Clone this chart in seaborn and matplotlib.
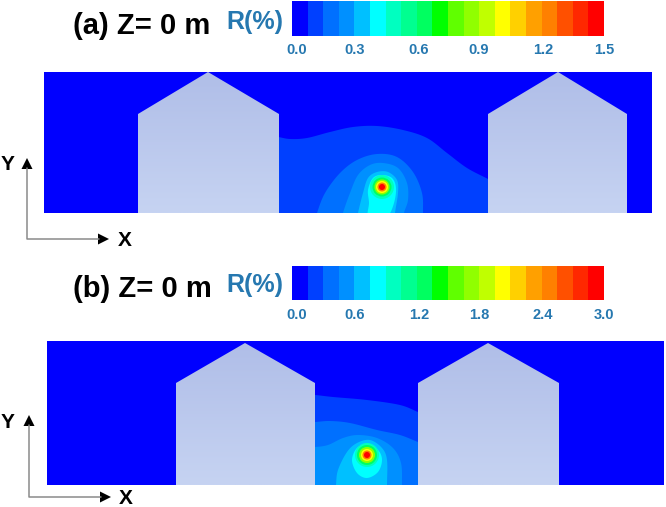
import numpy as np
import matplotlib
matplotlib.use("Agg")
import matplotlib.pyplot as plt
import seaborn as sns
from matplotlib.colors import ListedColormap, LinearSegmentedColormap
from matplotlib.patches import Polygon, Circle, Rectangle

sns.set_theme(style="white")
plt.rcParams["font.family"] = ["Liberation Sans", "DejaVu Sans"]

# colour scale of the CFD legend, 20 bands
band_colors = ["#0000ff", "#0040ff", "#0070ff", "#0090ff", "#00c0ff",
               "#00ffff", "#00ffc0", "#00ff90", "#00ff60", "#00ff00",
               "#60ff00", "#90ff00", "#c0ff00", "#ffff00", "#ffd000",
               "#ffa000", "#ff8000", "#ff5000", "#ff2800", "#ff0000"]
ticks_a = ["0.0", "0.3", "0.6", "0.9", "1.2", "1.5"]
ticks_b = ["0.0", "0.6", "1.2", "1.8", "2.4", "3.0"]

# contour outlines (image pixels), lowest level first
contours_a = [
    ("#0040ff", [(270, 137), (278, 137), (290, 139), (307, 138), (330, 132), (353, 127), (377, 126), (403, 130),
                 (427, 138), (447, 153), (467, 168), (488, 179), (500, 186), (505, 225), (500, 250), (385, 255),
                 (270, 250), (265, 200)]),
    ("#0070ff", [(314, 225), (317, 213), (325, 193), (340, 173), (357, 160), (377, 154), (397, 157),
                 (413, 172), (422, 193), (423, 213), (423, 228), (370, 235)]),
    ("#0090ff", [(341, 225), (343, 213), (350, 193), (358, 175), (370, 165), (383, 163), (398, 168),
                 (407, 183), (408, 200), (404, 213), (402, 228), (370, 235)]),
    ("#00c0ff", [(356, 225), (358, 213), (363, 193), (368, 178), (377, 172), (388, 172), (397, 180),
                 (398, 193), (395, 213), (394, 228), (375, 235)]),
    ("#00ffff", [(368, 216), (369, 203), (368, 190), (373, 178), (382, 175), (392, 178), (396, 188),
                 (394, 203), (388, 216), (378, 218)]),
]
contours_b = [
    ("#0040ff", [(305, 395), (315, 395), (333, 397), (367, 400), (400, 405), (418, 412), (430, 416),
                 (435, 460), (430, 510), (370, 515), (305, 510), (300, 450)]),
    ("#0070ff", [(305, 422), (315, 422), (330, 421), (350, 423), (377, 430), (400, 435), (418, 442), (430, 446),
                 (435, 470), (430, 510), (370, 515), (305, 510), (300, 465)]),
    ("#0090ff", [(305, 447), (315, 447), (328, 445), (343, 438), (358, 435), (377, 438), (393, 448),
                 (401, 463), (402, 485), (402, 510), (350, 515), (305, 510), (300, 480)]),
    ("#00c0ff", [(335, 500), (336, 485), (338, 470), (347, 452), (357, 443), (370, 440), (382, 448),
                 (387, 460), (387, 485), (387, 500), (360, 510)]),
    ("#00ffff", [(352, 460), (357, 448), (367, 445), (378, 450), (382, 460), (378, 472), (367, 478), (357, 473)]),
]
# rings around the source, outermost first
spot_colors = ["#00ffc0", "#00ff60", "#90ff00", "#ffff00", "#ff8000", "#ff0000"]
spot_radii_a = [12.0, 9.5, 7.5, 6.0, 4.5, 3.0]
spot_radii_b = [12.0, 10.0, 8.0, 6.0, 4.5, 3.0]

build_a = [[(138, 213), (138, 114), (208, 72), (279, 114), (279, 213)],
           [(488, 213), (488, 114), (558, 72), (627, 114), (627, 213)]]
build_b = [[(176, 485), (176, 383), (245, 343), (315, 383), (315, 485)],
           [(418, 485), (418, 383), (488, 343), (559, 383), (559, 485)]]


def smooth(points, steps=8):
    # closed catmull-rom through the read points
    pts = np.array(points, dtype=float)
    t = np.linspace(0, 1, steps, endpoint=False).reshape(-1, 1)
    out = []
    for i in range(len(pts)):
        p0, p1, p2, p3 = pts[i - 1], pts[i], pts[(i + 1) % len(pts)], pts[(i + 2) % len(pts)]
        out.append(0.5 * (2 * p1 + (p2 - p0) * t + (2 * p0 - 5 * p1 + 4 * p2 - p3) * t ** 2
                          + (3 * p1 - p0 - 3 * p2 + p3) * t ** 3))
    return np.vstack(out)


def draw_panel(ax, box, contours, center, radii, buildings):
    x0, y0, x1, y1 = box
    frame = Rectangle((x0, y0), x1 - x0, y1 - y0, fc=band_colors[0], ec="none")
    ax.add_patch(frame)
    for color, outline in contours:
        patch = Polygon(smooth(outline), closed=True, fc=color, ec="none")
        ax.add_patch(patch)
        patch.set_clip_path(frame)
    for color, r in zip(spot_colors, radii):
        ax.add_patch(Circle(center, r, fc=color, ec="none"))
    gradient = np.linspace(0, 1, 64).reshape(-1, 1)
    building_cmap = LinearSegmentedColormap.from_list("building", ["#b0bee8", "#c6d3f2"])
    for outline in buildings:
        ys = [p[1] for p in outline]
        xs = [p[0] for p in outline]
        img = ax.imshow(gradient, cmap=building_cmap, aspect="auto",
                        extent=(min(xs), max(xs), max(ys), min(ys)), origin="upper", zorder=3)
        patch = Polygon(outline, closed=True, fc="none", ec="none", transform=ax.transData)
        ax.add_patch(patch)
        img.set_clip_path(patch)


def draw_axes_arrows(ax, x, ytip, ycorner, xtip):
    ax.plot([x, x, xtip - 10], [ytip + 10, ycorner, ycorner], color="#8a8a8a", lw=1.1, zorder=4)
    ax.add_patch(Polygon([(x - 5.5, ytip + 11), (x + 5.5, ytip + 11), (x, ytip)], closed=True, fc="black", ec="none"))
    ax.add_patch(Polygon([(xtip - 11, ycorner - 5.5), (xtip - 11, ycorner + 5.5), (xtip, ycorner)],
                         closed=True, fc="black", ec="none"))


def draw_legend(fig, ax, top, bottom, title_y, tick_y, labels, title):
    W, H = fig.get_size_inches() * fig.dpi
    cax = fig.add_axes([292 / W, 1 - bottom / H, (604 - 292) / W, (bottom - top) / H])
    levels = np.arange(len(band_colors)).reshape(1, -1)
    sns.heatmap(levels, ax=cax, cmap=ListedColormap(band_colors), cbar=False,
                xticklabels=False, yticklabels=False)
    for tx, label in zip([297, 355, 419, 479, 543, 604], labels):
        ax.text(tx, tick_y, label, color=text_blue, fontsize=10.5, fontweight="bold",
                ha="center", va="center")
    ax.text(255, title_y - 1, "R(%)", color=text_blue, fontsize=18, fontweight="bold", ha="center", va="center")
    ax.text(142, title_y + 3, title, color="black", fontsize=21, fontweight="bold", ha="center", va="center")


text_blue = "#2678b0"

fig = plt.figure(figsize=(6.66, 5.07), dpi=100)
ax = fig.add_axes([0, 0, 1, 1])

draw_panel(ax, (44, 72, 652, 213), contours_a, (382, 187), spot_radii_a, build_a)
draw_panel(ax, (47, 341, 664, 485), contours_b, (367, 455), spot_radii_b, build_b)

draw_axes_arrows(ax, 27, 158, 239, 109)
draw_axes_arrows(ax, 29, 415, 497, 111)
for (tx, ty, s) in [(8, 165, "Y"), (125, 241, "X"), (8, 423, "Y"), (126, 498, "X")]:
    ax.text(tx, ty, s, color="black", fontsize=15, fontweight="bold", ha="center", va="center")

draw_legend(fig, ax, 1, 36, 23, 50, ticks_a, "(a) Z= 0 m")
draw_legend(fig, ax, 266, 300, 286, 315, ticks_b, "(b) Z= 0 m")

ax.set_xlim(0, 666)
ax.set_ylim(507, 0)
ax.axis("off")

fig.savefig("out.png", dpi=100, facecolor="white")
